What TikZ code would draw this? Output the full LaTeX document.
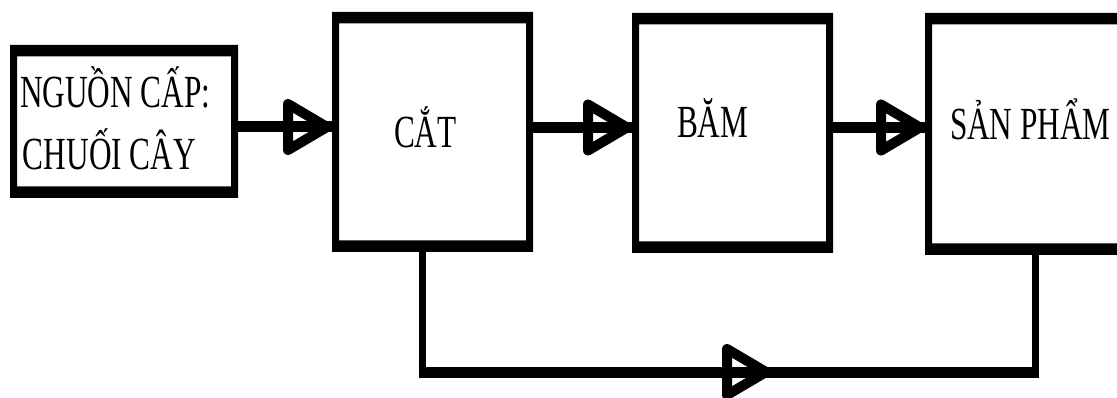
\documentclass[tikz,border=0pt]{standalone}
\usepackage{graphicx}
\usepackage{fontspec}
\setmainfont{Liberation Serif}
% narrow caption text, as set in the block labels
\newcommand{\narrowtext}[1]{\scalebox{0.68}[1]{#1}}
\begin{document}
\begin{tikzpicture}[x=1pt,y=-1pt,
  frame/.style={rectangle, draw=none, inner sep=0pt, outer sep=0pt,
    path picture={\fill[black,even odd rule]
      (path picture bounding box.north west) rectangle (path picture bounding box.south east)
      ([shift={(7pt,-11.5pt)}]path picture bounding box.north west)
      rectangle ([shift={(-7pt,11.5pt)}]path picture bounding box.south east);}},
  lbl/.style={inner sep=0pt, outer sep=0pt, anchor=base west,
    font=\fontsize{46}{62}\selectfont},
  shaft/.style={line width=11pt},
  vline/.style={line width=7pt},
  hline/.style={line width=11pt},
  openhead/.pic={\draw[line width=10pt, line join=round]
    (-44,-23) -- (-5,0) -- (-44,23) -- cycle;}]
\useasboundingbox (0,0) rectangle (1117,398);
\clip (0,0) rectangle (1117,398);

% process blocks
\node[frame, minimum width=228pt, minimum height=153pt] (src) at (124,121.5) {};
\node[frame, minimum width=201pt, minimum height=240pt] (cut) at (432.5,132) {};
\node[frame, minimum width=201pt, minimum height=240pt] (mince) at (732.5,133) {};
\node[frame, minimum width=210pt, minimum height=242pt] (prod) at (1030,134) {};

% block captions
\node[lbl] (srcA) at (20,108) {\narrowtext{NGUỒN CẤP:}};
\node[lbl] (srcB) at (23,170) {\narrowtext{CHUỐI CÂY}};
\node[lbl] (cutT) at (394,148) {\narrowtext{CẮT}};
\node[lbl] (minT) at (677,138) {\narrowtext{BĂM}};
\node[lbl] (prodT) at (950,140) {\narrowtext{SẢN PHẨM}};

% main flow
\coordinate (y1) at (0,127);
\coordinate (y2) at (0,127.5);
\draw[shaft] (src.east |- y1) -- (cut.west |- y1);
\pic at (cut.west |- y1) {openhead};
\draw[shaft] (cut.east |- y2) -- (mince.west |- y2);
\pic at (mince.west |- y2) {openhead};
\draw[shaft] (mince.east |- y2) -- (prod.west |- y2);
\pic at (prod.west |- y2) {openhead};

% bypass line under the blocks
\coordinate (fb) at (422,372);
\coordinate (fe) at (1035.5,372);
\coordinate (ft) at (771,372);
\draw[vline] ([yshift=5pt]cut.south -| fb) -- (fb);
\draw[hline] ([xshift=-3.5pt]fb) -- ([xshift=3.5pt]fe);
\draw[vline] (fe) -- ([yshift=5pt]prod.south -| fe);
\pic at (ft) {openhead};
\end{tikzpicture}
\end{document}
